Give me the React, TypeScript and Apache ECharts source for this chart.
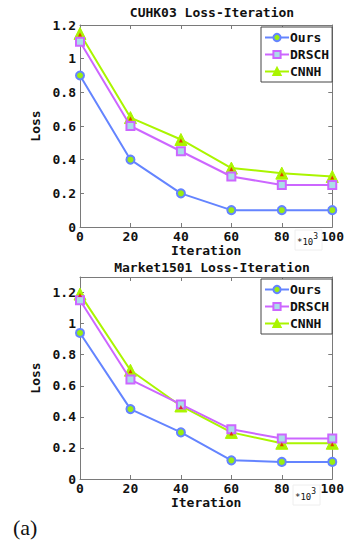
import React, { useEffect, useRef } from "react";
import * as echarts from "echarts";

const iterations = [0, 20, 40, 60, 80, 100];
const seriesNames = ["Ours", "DRSCH", "CNNH"];

const cuhkOurs = [0.9, 0.4, 0.2, 0.1, 0.1, 0.1];
const cuhkDrsch = [1.1, 0.6, 0.45, 0.3, 0.25, 0.25];
const cuhkCnnh = [1.15, 0.65, 0.52, 0.35, 0.32, 0.3];

const marketOurs = [0.94, 0.45, 0.3, 0.12, 0.11, 0.11];
const marketDrsch = [1.15, 0.64, 0.48, 0.32, 0.26, 0.26];
const marketCnnh = [1.19, 0.7, 0.47, 0.3, 0.23, 0.23];

const titles = ["CUHK03 Loss-Iteration", "Market1501 Loss-Iteration"];

const MONO = "monospace";
const SERIF = "serif";
const AX = "#7a7a7a";

const pair = (ys: number[]) => iterations.map((x, i) => [x, ys[i]]);

export default function App() {
  const ref = useRef<HTMLDivElement>(null);
  useEffect(() => {
    document.body.style.margin = "0";
    const chart = echarts.init(ref.current!, null, { renderer: "svg" });
    const grids = [
      { left: 80, top: 25, width: 254, height: 202 },
      { left: 80, top: 277, width: 254, height: 202 },
    ];
    const ymax = [1.2, 1.3];
    const xAxis: any[] = [];
    const yAxis: any[] = [];
    grids.forEach((g, gi) => {
      xAxis.push({
        type: "value", gridIndex: gi, min: 0, max: 100, interval: 20, position: "bottom",
        axisLine: { show: true, lineStyle: { color: AX, width: 1 } },
        axisTick: { show: true, inside: true, length: 4, lineStyle: { color: AX } },
        splitLine: { show: false },
        axisLabel: { color: "#111", fontFamily: MONO, fontSize: 13, fontWeight: "bold", margin: 3 },
        name: "Iteration", nameLocation: "middle", nameGap: 11,
        nameTextStyle: { color: "#111", fontFamily: MONO, fontSize: 13, fontWeight: "bold" },
      });
      xAxis.push({
        type: "value", gridIndex: gi, min: 0, max: 100, interval: 20, position: "top",
        axisLine: { show: true, onZero: false, lineStyle: { color: AX, width: 1 } },
        axisTick: { show: true, inside: true, length: 4, lineStyle: { color: AX } },
        axisLabel: { show: false }, splitLine: { show: false },
      });
      yAxis.push({
        type: "value", gridIndex: gi, min: 0, max: ymax[gi], interval: 0.2, position: "left",
        axisLine: { show: true, lineStyle: { color: AX, width: 1 } },
        axisTick: { show: true, inside: true, length: 4, lineStyle: { color: AX } },
        splitLine: { show: false },
        axisLabel: {
          color: "#111", fontFamily: MONO, fontSize: 13, fontWeight: "bold", margin: 4,
          showMaxLabel: gi === 0,
          formatter: (v: number) => {
            const r = Math.round(v * 10) / 10;
            if (r > 1.25) return "";
            return r === 0 || r === 1 ? String(r) : r.toFixed(1);
          },
        },
        name: "Loss", nameLocation: "middle", nameGap: 22,
        nameTextStyle: { color: "#111", fontFamily: MONO, fontSize: 13, fontWeight: "bold" },
      });
      yAxis.push({
        type: "value", gridIndex: gi, min: 0, max: ymax[gi], interval: 0.2, position: "right",
        axisLine: { show: true, onZero: false, lineStyle: { color: AX, width: 1 } },
        axisTick: { show: true, inside: true, length: 4, lineStyle: { color: AX } },
        axisLabel: { show: false }, splitLine: { show: false },
      });
    });

    const data = [
      [cuhkOurs, cuhkDrsch, cuhkCnnh],
      [marketOurs, marketDrsch, marketCnnh],
    ];
    const series: any[] = [];
    data.forEach((set, gi) => {
      const xi = gi * 2;
      const yi = gi * 2;
      series.push({
        type: "line", name: seriesNames[0], xAxisIndex: xi, yAxisIndex: yi, data: pair(set[0]),
        lineStyle: { color: "#6484ff", width: 2 },
        itemStyle: { color: "#99ee11", borderColor: "#6484ff", borderWidth: 2 },
        symbol: "circle", symbolSize: 8, z: 4,
      });
      series.push({
        type: "line", name: seriesNames[1], xAxisIndex: xi, yAxisIndex: yi, data: pair(set[1]),
        lineStyle: { color: "#cc66ff", width: 2 },
        itemStyle: { color: "#aadde8", borderColor: "#cc66ff", borderWidth: 2 },
        symbol: "rect", symbolSize: 8, z: 3,
      });
      series.push({
        type: "line", name: seriesNames[2], xAxisIndex: xi, yAxisIndex: yi, data: pair(set[2]),
        lineStyle: { color: "#aaf500", width: 2 },
        itemStyle: { color: "#aaf500", borderColor: "#aaf500", borderWidth: 1 },
        symbol: "triangle", symbolSize: 12, z: 2,
      });
      series.push({
        type: "scatter", name: "CNNH-inner", xAxisIndex: xi, yAxisIndex: yi, data: pair(set[2]),
        itemStyle: { color: "#ee1100" }, symbol: "triangle", symbolSize: 4, symbolOffset: [0, 1],
        z: 5, silent: true,
      });
    });

    const legendBase = {
      orient: "vertical", itemWidth: 24, itemHeight: 9, itemGap: 4,
      padding: [4, 3, 4, 3], borderColor: "#444", borderWidth: 1, backgroundColor: "#fff",
      textStyle: { color: "#111", fontFamily: MONO, fontSize: 13, fontWeight: "bold", padding: [0, 0, 0, -4] },
      data: seriesNames,
      width: 73,
    };

    const sup = (x: number, y: number) => ([
      { type: "rect", shape: { x: x - 2, y: y - 9, width: 27, height: 20 }, style: { fill: "#fff", stroke: "#eee", lineWidth: 1 }, z: 10 },
      {
        type: "text", x, y, z: 11,
        style: {
          text: "{a|*10}{b|3}",
          rich: {
            a: { fontFamily: MONO, fontSize: 9, fill: "#111", verticalAlign: "bottom" },
            b: { fontFamily: MONO, fontSize: 8, fill: "#111", padding: [0, 0, 6, 0] },
          },
          verticalAlign: "middle",
        },
      },
    ]);

    chart.setOption({
      animation: false,
      backgroundColor: "#fff",
      title: [
        { text: titles[0], left: 207, top: 1, textAlign: "center", textStyle: { fontFamily: MONO, fontSize: 13, fontWeight: "bold", color: "#111" } },
        { text: titles[1], left: 207, top: 256, textAlign: "center", textStyle: { fontFamily: MONO, fontSize: 13, fontWeight: "bold", color: "#111" } },
      ],
      grid: grids,
      xAxis, yAxis, series,
      legend: [
        { ...legendBase, left: 261, top: 27 },
        { ...legendBase, left: 261, top: 279 },
      ],
      graphic: [
        ...sup(297, 239),
        ...sup(295, 494),
        { type: "text", x: 13, y: 527, style: { text: "(a)", fontFamily: SERIF, fontSize: 22, fill: "#111", verticalAlign: "middle" } },
      ],
    });
    return () => chart.dispose();
  }, []);
  return <div ref={ref} style={{ width: 347, height: 542 }} />;
}
